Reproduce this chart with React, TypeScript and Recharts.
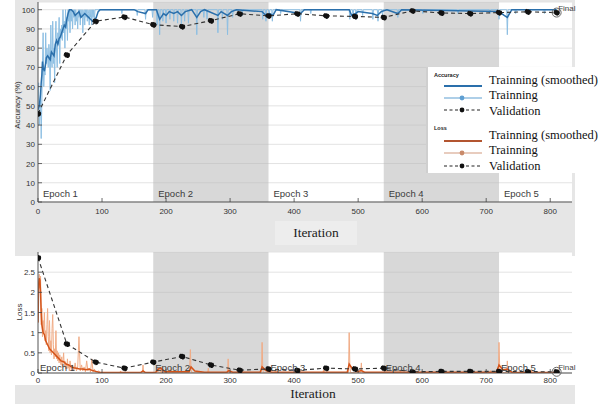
import { LineChart, Line, XAxis, YAxis, CartesianGrid, ReferenceArea, ReferenceDot } from "recharts";

// iterations where each epoch starts / ends
const epochs = [
  { name: "Epoch 1", x1: 0, x2: 180, shaded: false },
  { name: "Epoch 2", x1: 180, x2: 360, shaded: true },
  { name: "Epoch 3", x1: 360, x2: 540, shaded: false },
  { name: "Epoch 4", x1: 540, x2: 720, shaded: true },
  { name: "Epoch 5", x1: 720, x2: 834, shaded: false },
];

const iterTicks = [0, 100, 200, 300, 400, 500, 600, 700, 800];
const accTicks = [0, 10, 20, 30, 40, 50, 60, 70, 80, 90, 100];
const lossTicks = [0, 0.5, 1, 1.5, 2, 2.5];

const valIters = [0, 45, 90, 135, 180, 225, 270, 315, 360, 405, 450, 495, 540, 585, 630, 675, 720, 765, 810];
const valAcc = [46, 76.5, 94, 96.2, 92.2, 91.2, 94.3, 97.9, 96.8, 97.9, 96.8, 96.5, 96, 99.4, 98.3, 98, 98.5, 98.9, 98.5];
const valLoss = [2.86, 0.72, 0.27, 0.12, 0.27, 0.41, 0.2, 0.07, 0.1, 0.065, 0.12, 0.1, 0.12, 0.03, 0.04, 0.04, 0.04, 0.035, 0.03];

const accRawPts: [number, number][] = [
  [0, 50], [1, 62], [2, 40], [3, 45], [4, 55], [5, 33], [6, 52], [7, 72], [8, 88], [9, 60],
  [10, 70], [11, 66], [12, 88], [13, 72], [14, 80], [15, 75], [16, 70], [17, 82], [18, 76], [19, 58],
  [20, 92], [21, 75], [22, 70], [23, 94], [24, 72], [25, 80], [26, 62], [27, 84], [28, 94], [29, 78],
  [30, 70], [31, 88], [32, 82], [33, 96], [34, 72], [35, 90], [36, 85], [37, 92], [38, 84], [39, 100],
  [40, 88], [41, 94], [42, 80], [43, 100], [44, 90], [45, 96], [46, 84], [47, 100], [48, 94], [49, 100],
  [50, 88], [51, 100], [52, 94], [53, 100], [54, 90], [55, 100], [56, 96], [57, 100], [58, 92], [59, 100],
  [60, 94], [61, 98], [62, 90], [63, 100], [64, 96], [65, 100], [66, 92], [67, 100], [68, 96], [69, 100],
  [70, 88], [71, 98], [72, 100], [73, 92], [74, 100], [75, 96], [76, 100], [77, 94], [78, 100], [79, 98],
  [80, 92], [81, 100], [82, 96], [83, 100], [84, 92], [85, 100], [86, 96], [87, 100], [88, 94], [89, 100],
  [100, 100], [130, 100], [131, 98], [132, 100], [154, 100], [155, 97], [156, 100], [167, 100], [168, 95], [169, 100],
  [178, 100], [179, 96], [180, 100], [185, 100], [186, 92], [187, 100], [189, 100], [190, 87], [191, 100],
  [194, 100], [195, 94], [196, 100], [199, 100], [200, 93], [201, 100], [205, 100], [206, 95], [207, 100],
  [211, 100], [212, 94], [213, 100], [217, 100], [218, 93], [219, 100], [223, 100], [224, 92], [225, 100],
  [228, 100], [229, 94], [230, 100], [234, 100], [235, 93], [236, 100], [247, 100], [248, 87], [249, 100],
  [258, 100], [259, 96], [260, 100], [263, 100], [264, 95], [265, 100], [280, 100], [281, 88], [282, 100],
  [287, 100], [288, 95], [289, 100], [295, 100], [296, 87], [297, 100], [303, 100], [304, 96], [305, 100],
  [318, 100], [319, 97], [320, 100], [350, 100], [351, 95], [352, 100], [355, 100], [356, 94], [357, 100],
  [360, 100], [361, 96], [362, 100], [365, 100], [366, 94], [367, 100], [378, 100], [379, 98], [380, 100],
  [409, 100], [410, 94], [411, 100], [425, 100], [426, 98], [427, 100], [486, 100], [487, 95], [488, 100],
  [491, 100], [492, 96], [493, 100], [496, 100], [497, 95], [498, 100], [506, 100], [507, 97], [508, 100],
  [522, 100], [523, 95], [524, 100], [530, 100], [531, 94], [532, 100], [537, 100], [538, 97], [539, 100],
  [561, 100], [562, 96], [563, 100], [600, 100], [601, 98], [602, 100], [655, 100], [656, 98], [657, 100],
  [705, 100], [706, 98], [707, 100], [719, 100], [720, 95], [721, 100], [732, 100], [733, 87], [734, 100],
  [745, 100], [746, 98], [747, 100], [790, 100], [791, 98], [792, 100], [810, 100],
];

const accSmoothPts: [number, number][] = [
  [0, 48], [2, 50], [4, 56], [5, 62], [6, 66], [7, 73], [8, 70], [10, 68], [12, 72], [13, 75],
  [15, 76], [17, 75], [19, 74], [21, 78], [23, 77], [25, 76], [27, 82], [29, 84], [31, 82], [33, 85],
  [35, 86], [37, 88], [39, 90], [41, 92], [43, 91], [45, 95], [47, 98], [49, 100], [52, 100], [55, 99],
  [58, 97], [61, 98], [64, 99], [67, 96], [70, 97], [73, 98], [76, 97], [79, 96], [82, 95], [85, 94],
  [88, 94], [91, 96], [94, 99], [97, 100], [150, 100], [156, 99], [168, 98], [172, 100], [185, 100],
  [190, 95], [196, 98], [200, 97], [205, 99], [212, 98], [218, 99], [224, 97], [230, 99], [240, 100],
  [248, 96], [254, 99], [260, 100], [281, 97], [286, 99], [296, 97], [302, 99], [310, 100], [350, 99],
  [356, 97], [362, 98], [367, 97], [372, 100], [410, 98], [416, 100], [486, 100], [490, 97], [496, 98],
  [500, 99], [522, 98], [530, 97], [536, 99], [545, 100], [562, 98], [568, 100], [720, 99], [728, 97],
  [733, 96], [740, 100], [810, 100],
];

const lossRawPts: [number, number][] = [
  [0, 1.25], [1, 2.3], [2, 2.45], [3, 2.1], [4, 2.4], [5, 1.2], [6, 1.6], [7, 0.9], [8, 1.3], [9, 1.0],
  [10, 1.5], [11, 0.8], [12, 1.05], [13, 0.7], [14, 1.2], [15, 1.6], [16, 0.9], [17, 0.55], [18, 1.3], [19, 0.5],
  [20, 0.8], [21, 0.45], [22, 1.1], [23, 1.45], [24, 0.7], [25, 0.35], [26, 0.6], [27, 0.4], [28, 1.05], [29, 0.35],
  [30, 0.55], [31, 0.3], [32, 0.5], [33, 0.25], [34, 0.45], [35, 0.3], [36, 0.2], [37, 0.4], [38, 0.15], [39, 0.3],
  [40, 0.5], [41, 0.15], [42, 0.3], [43, 0.1], [44, 0.25], [45, 0.1], [46, 0.35], [47, 0.12], [48, 0.2], [49, 0.05],
  [50, 0.3], [52, 0.08], [54, 0.2], [56, 0.05], [58, 0.25], [60, 0.05], [62, 0.15], [64, 0.9], [66, 0.05], [68, 0.2],
  [70, 0.05], [72, 0.15], [74, 0.03], [76, 0.3], [78, 0.05], [80, 0.12], [82, 0.02], [84, 0.35], [86, 0.03], [88, 0.1],
  [90, 0.02], [95, 0.05], [98, 0.01], [100, 0.01], [128, 0.01], [129, 0.05], [130, 0.01], [163, 0.01], [164, 0.2], [165, 0.01],
  [186, 0.01], [187, 0.12], [188, 0.01], [191, 0.01], [192, 0.15], [193, 0.01], [207, 0.01], [208, 0.1], [209, 0.01],
  [236, 0.01], [237, 0.2], [238, 0.58], [239, 0.1], [240, 0.01], [265, 0.01], [266, 0.12], [267, 0.01],
  [296, 0.01], [297, 0.35], [298, 0.01], [314, 0.01], [315, 0.1], [316, 0.01], [349, 0.01], [350, 0.76], [351, 0.15], [352, 0.01],
  [370, 0.01], [371, 0.1], [372, 0.01], [405, 0.01], [406, 0.05], [407, 0.01], [445, 0.01], [446, 0.08], [447, 0.01],
  [485, 0.01], [486, 1.0], [487, 0.2], [488, 0.01], [504, 0.01], [505, 0.25], [506, 0.01], [565, 0.01], [566, 0.05], [567, 0.01],
  [628, 0.01], [629, 0.05], [630, 0.01], [668, 0.01], [669, 0.05], [670, 0.01], [706, 0.01], [707, 0.06], [708, 0.01],
  [719, 0.01], [720, 0.76], [721, 0.2], [722, 0.01], [732, 0.01], [733, 0.3], [734, 0.01], [770, 0.01], [771, 0.05], [772, 0.01],
  [810, 0.01],
];

const lossSmoothPts: [number, number][] = [
  [0, 1.25], [1, 2.2], [2, 2.35], [3, 2.3], [4, 2.0], [5, 1.5], [6, 1.2], [8, 1.0], [10, 0.95], [12, 0.8],
  [15, 0.7], [18, 0.6], [21, 0.55], [24, 0.5], [27, 0.45], [30, 0.4], [33, 0.35], [36, 0.3], [40, 0.28], [44, 0.22],
  [48, 0.2], [52, 0.15], [56, 0.13], [60, 0.12], [65, 0.1], [70, 0.1], [75, 0.08], [80, 0.1], [85, 0.06], [90, 0.04],
  [95, 0.02], [100, 0.01], [160, 0.01], [164, 0.05], [168, 0.01], [184, 0.02], [188, 0.1], [192, 0.12], [198, 0.03],
  [236, 0.03], [239, 0.15], [245, 0.05], [260, 0.02], [295, 0.02], [298, 0.06], [304, 0.02], [347, 0.02], [350, 0.15],
  [356, 0.06], [365, 0.02], [483, 0.02], [486, 0.22], [492, 0.08], [500, 0.04], [505, 0.06], [510, 0.02], [716, 0.02],
  [720, 0.2], [726, 0.08], [733, 0.1], [740, 0.02], [810, 0.01],
];

const toRows = (pts: [number, number][]) => pts.map(([it, v]) => ({ it, v }));
const accRaw = toRows(accRawPts);
const accSmooth = toRows(accSmoothPts);
const lossRaw = toRows(lossRawPts);
const lossSmooth = toRows(lossSmoothPts);
const accVal = valIters.map((it, i) => ({ it, v: valAcc[i] }));
const lossVal = valIters.map((it, i) => ({ it, v: valLoss[i] }));

const SANS = "'Liberation Sans', Arial, sans-serif";
const SERIF = "'Liberation Serif', 'Times New Roman', serif";
const PANEL = "#e6e6e6";
const ACC_DARK = "#2a6fab";
const ACC_LIGHT = "#8dbfe3";
const LOSS_DARK = "#d4541a";
const LOSS_LIGHT = "#f1ac86";

const XTick = (props: any) => {
  const { x, y, payload, gap } = props;
  return (
    <g>
      <line x1={x} x2={x} y1={y} y2={y - 4} stroke="#444" strokeWidth={0.8} />
      <text x={x} y={y + gap} textAnchor="middle" fontSize={8} fontFamily={SANS} fill="#333">
        {payload.value}
      </text>
    </g>
  );
};

const YTick = (props: any) => {
  const { x, y, payload } = props;
  return (
    <g>
      <line x1={x} x2={x + 4} y1={y} y2={y} stroke="#444" strokeWidth={0.8} />
      <text x={x - 3} y={y + 3} textAnchor="end" fontSize={8} fontFamily={SANS} fill="#333">
        {payload.value}
      </text>
    </g>
  );
};

function epochAreas(bottomOffset: number) {
  return epochs.map((e) => (
    <ReferenceArea
      key={e.name}
      x1={e.x1}
      x2={e.x2}
      fill={e.shaded ? "#b8b8b8" : "none"}
      fillOpacity={e.shaded ? 0.55 : 0}
      stroke="none"
      ifOverflow="hidden"
      label={{
        value: e.name,
        position: "insideBottomLeft",
        offset: bottomOffset,
        fontSize: 9.5,
        fill: "#3a3a3a",
        fontFamily: SANS,
      }}
    />
  ));
}

const FinalLabel = (props: any) => {
  const { viewBox } = props;
  return (
    <text x={viewBox.x + 6} y={viewBox.y + 3} fontSize={8} fontFamily={SANS} fill="#444">
      Final
    </text>
  );
};

function Legend() {
  const row = (y: number, color: string, dash?: string, dot?: string, width = 1.2) => (
    <g>
      <line x1={16} x2={54} y1={y} y2={y} stroke={color} strokeWidth={width} strokeDasharray={dash} />
      {dot && <circle cx={34} cy={y} r={2.4} fill={dot} />}
    </g>
  );
  const txt = (top: number, s: string) => (
    <div style={{ position: "absolute", left: 61, top: top - 8, fontFamily: SERIF, fontSize: 12.5, whiteSpace: "nowrap", color: "#111" }}>{s}</div>
  );
  return (
    <div style={{ position: "absolute", left: 426, top: 67, width: 177, height: 106, background: "#fff", borderLeft: "2px solid #cfcfcf" }}>
      <svg width={60} height={106} style={{ position: "absolute", left: 0, top: 0 }}>
        <text x={6} y={10} fontSize={5.5} fontWeight="bold" fontFamily={SANS} fill="#222">Accuracy</text>
        {row(19, ACC_DARK, undefined, undefined, 2)}
        {row(31, "#5f9fd2", undefined, "#5f9fd2")}
        {row(43, "#222", "3 2.5", "#111")}
        <text x={6} y={63} fontSize={5.5} fontWeight="bold" fontFamily={SANS} fill="#222">Loss</text>
        {row(74, "#b35530", undefined, undefined, 2)}
        {row(86, "#d29a7e", undefined, "#c98a6a")}
        {row(99, "#222", "3 2.5", "#111")}
      </svg>
      {txt(14, "Trainning (smoothed)")}
      {txt(29, "Trainning")}
      {txt(45, "Validation")}
      {txt(69, "Trainning (smoothed)")}
      {txt(84, "Trainning")}
      {txt(100, "Validation")}
    </div>
  );
}

export default function App() {
  return (
    <div style={{ position: "absolute", left: 0, top: 0, width: 605, height: 404, background: "#fff", overflow: "hidden" }}>
      <div style={{ position: "absolute", left: 15, top: 0, width: 560, height: 256, background: PANEL }} />
      <div style={{ position: "absolute", left: 15, top: 385, width: 560, height: 19, background: PANEL }} />
      <div style={{ position: "absolute", left: 275, top: 221, width: 82, height: 24, background: "#ededed" }} />

      <div style={{ position: "absolute", left: 0, top: 0, width: 576, height: 252, overflow: "hidden" }}>
        <LineChart width={578} height={252} margin={{ top: 2, right: 6, bottom: 30, left: 8 }}>
          <CartesianGrid vertical={false} stroke="#e3e3e3" fill="#fff" />
          {epochAreas(5)}
          <XAxis
            dataKey="it"
            type="number"
            domain={[0, 834]}
            ticks={iterTicks}
            interval={0}
            allowDataOverflow
            height={20}
            tickSize={0}
            tickMargin={0}
            tickLine={false}
            stroke="#555"
            tick={<XTick gap={12} />}
          />
          <YAxis
            type="number"
            domain={[0, 104]}
            ticks={accTicks}
            interval={0}
            allowDataOverflow
            width={30}
            tickSize={0}
            tickMargin={0}
            tickLine={false}
            stroke="#555"
            tick={<YTick />}
          />
          <Line data={accRaw} dataKey="v" stroke={ACC_LIGHT} strokeWidth={1} dot={false} isAnimationActive={false} />
          <Line data={accSmooth} dataKey="v" stroke={ACC_DARK} strokeWidth={1.5} dot={false} isAnimationActive={false} />
          <Line
            data={accVal}
            dataKey="v"
            stroke="#333"
            strokeWidth={1.1}
            strokeDasharray="4 3"
            dot={{ r: 2.6, fill: "#111", stroke: "#111" }}
            isAnimationActive={false}
          />
          <ReferenceDot x={810} y={98.5} r={4.5} fill="none" stroke="#666" strokeWidth={1} label={<FinalLabel />} />
        </LineChart>
      </div>

      <div style={{ position: "absolute", left: 0, top: 240, width: 576, height: 145, overflow: "hidden" }}>
        <LineChart width={578} height={145} margin={{ top: 12, right: 6, bottom: 0, left: 8 }}>
          <CartesianGrid vertical={false} stroke="#e3e3e3" fill="#fff" />
          {epochAreas(2)}
          <XAxis
            dataKey="it"
            type="number"
            domain={[0, 834]}
            ticks={iterTicks}
            interval={0}
            allowDataOverflow
            height={12}
            tickSize={0}
            tickMargin={0}
            tickLine={false}
            stroke="#555"
            tick={<XTick gap={10} />}
          />
          <YAxis
            type="number"
            domain={[0, 3]}
            ticks={lossTicks}
            interval={0}
            allowDataOverflow
            width={30}
            tickSize={0}
            tickMargin={0}
            tickLine={false}
            stroke="#555"
            tick={<YTick />}
          />
          <Line data={lossRaw} dataKey="v" stroke={LOSS_LIGHT} strokeWidth={1} dot={false} isAnimationActive={false} />
          <Line data={lossSmooth} dataKey="v" stroke={LOSS_DARK} strokeWidth={1.5} dot={false} isAnimationActive={false} />
          <Line
            data={lossVal}
            dataKey="v"
            stroke="#333"
            strokeWidth={1.1}
            strokeDasharray="4 3"
            dot={{ r: 2.6, fill: "#111", stroke: "#111" }}
            isAnimationActive={false}
          />
          <ReferenceDot x={810} y={0.03} r={4.5} fill="none" stroke="#666" strokeWidth={1} label={<FinalLabel />} />
        </LineChart>
      </div>

      <div style={{ position: "absolute", left: 11, top: 105, transform: "translate(-50%, -50%) rotate(-90deg)", fontFamily: SANS, fontSize: 8, color: "#333", whiteSpace: "nowrap", marginLeft: 6 }}>
        Accuracy (%)
      </div>
      <div style={{ position: "absolute", left: 13, top: 312, transform: "translate(-50%, -50%) rotate(-90deg)", fontFamily: SANS, fontSize: 8, color: "#333", whiteSpace: "nowrap", marginLeft: 6 }}>
        Loss
      </div>
      <div style={{ position: "absolute", left: 316, top: 233, transform: "translate(-50%, -50%)", fontFamily: SERIF, fontSize: 13.5, color: "#222" }}>Iteration</div>
      <div style={{ position: "absolute", left: 313, top: 394, transform: "translate(-50%, -50%)", fontFamily: SERIF, fontSize: 13.5, color: "#222" }}>Iteration</div>

      <Legend />
    </div>
  );
}
